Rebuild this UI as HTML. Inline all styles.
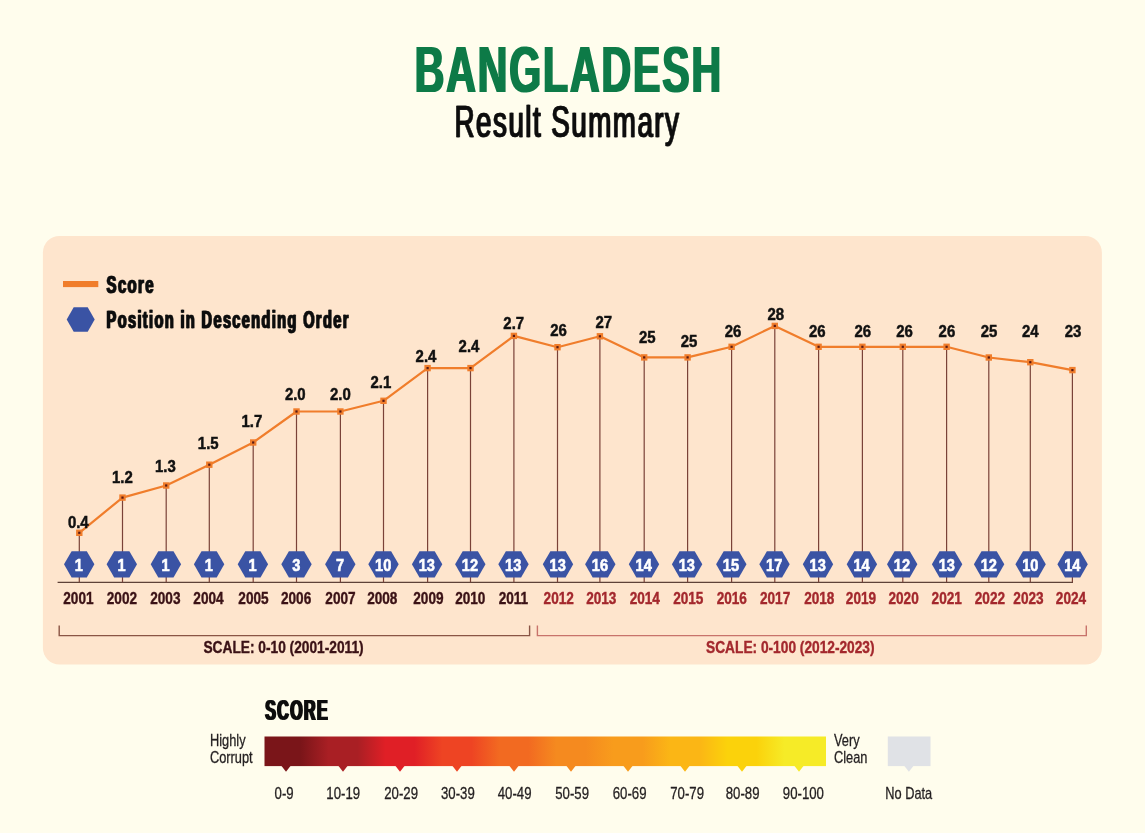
<!DOCTYPE html>
<html lang="en">
<head>
<meta charset="utf-8">
<title>Bangladesh Result Summary</title>
<style>
html,body{margin:0;padding:0;background:#FFFDED;}
body{width:1145px;height:833px;overflow:hidden;}
svg{display:block;font-family:'Liberation Sans', Arial, Helvetica, sans-serif;}
</style>
</head>
<body>
<svg width="1145" height="833" viewBox="0 0 1145 833">
<rect x="0" y="0" width="1145" height="833" fill="#FFFDED"/>
<rect x="42.9" y="236" width="1059" height="428.5" rx="16.5" ry="16.5" fill="#FEE5CD"/>
<rect x="63" y="281" width="35.3" height="6.1" fill="#F07D2B"/>
<polygon points="66.70,319.50 73.70,307.35 87.70,307.35 94.70,319.50 87.70,331.65 73.70,331.65" fill="#3A53A4"/>
<line x1="57.6" y1="582.3" x2="1073" y2="582.3" stroke="#5E4238" stroke-width="1.3"/>
<line x1="79.3" y1="532.8" x2="79.3" y2="582.3" stroke="#7A4238" stroke-width="1.2"/>
<line x1="122.5" y1="497.6" x2="122.5" y2="582.3" stroke="#7A4238" stroke-width="1.2"/>
<line x1="166.2" y1="485.5" x2="166.2" y2="582.3" stroke="#7A4238" stroke-width="1.2"/>
<line x1="209.3" y1="464.7" x2="209.3" y2="582.3" stroke="#7A4238" stroke-width="1.2"/>
<line x1="253.2" y1="442.5" x2="253.2" y2="582.3" stroke="#7A4238" stroke-width="1.2"/>
<line x1="296.5" y1="411.5" x2="296.5" y2="582.3" stroke="#7A4238" stroke-width="1.2"/>
<line x1="340.4" y1="411.5" x2="340.4" y2="582.3" stroke="#7A4238" stroke-width="1.2"/>
<line x1="383.5" y1="400.8" x2="383.5" y2="582.3" stroke="#7A4238" stroke-width="1.2"/>
<line x1="427.6" y1="368.1" x2="427.6" y2="582.3" stroke="#7A4238" stroke-width="1.2"/>
<line x1="470.5" y1="368.1" x2="470.5" y2="582.3" stroke="#7A4238" stroke-width="1.2"/>
<line x1="513.9" y1="335.9" x2="513.9" y2="582.3" stroke="#7A4238" stroke-width="1.2"/>
<line x1="557.5" y1="347.2" x2="557.5" y2="582.3" stroke="#7A4238" stroke-width="1.2"/>
<line x1="599.9" y1="336.3" x2="599.9" y2="582.3" stroke="#7A4238" stroke-width="1.2"/>
<line x1="644.2" y1="357.4" x2="644.2" y2="582.3" stroke="#7A4238" stroke-width="1.2"/>
<line x1="687.6" y1="357.4" x2="687.6" y2="582.3" stroke="#7A4238" stroke-width="1.2"/>
<line x1="731.6" y1="346.8" x2="731.6" y2="582.3" stroke="#7A4238" stroke-width="1.2"/>
<line x1="774.8" y1="325.9" x2="774.8" y2="582.3" stroke="#7A4238" stroke-width="1.2"/>
<line x1="818.6" y1="346.8" x2="818.6" y2="582.3" stroke="#7A4238" stroke-width="1.2"/>
<line x1="862.4" y1="346.8" x2="862.4" y2="582.3" stroke="#7A4238" stroke-width="1.2"/>
<line x1="902.8" y1="346.8" x2="902.8" y2="582.3" stroke="#7A4238" stroke-width="1.2"/>
<line x1="946.6" y1="346.8" x2="946.6" y2="582.3" stroke="#7A4238" stroke-width="1.2"/>
<line x1="988.8" y1="357.5" x2="988.8" y2="582.3" stroke="#7A4238" stroke-width="1.2"/>
<line x1="1030.3" y1="362.2" x2="1030.3" y2="582.3" stroke="#7A4238" stroke-width="1.2"/>
<line x1="1072.4" y1="370.1" x2="1072.4" y2="582.3" stroke="#7A4238" stroke-width="1.2"/>
<polyline points="79.3,532.8 122.5,497.6 166.2,485.5 209.3,464.7 253.2,442.5 296.5,411.5 340.4,411.5 383.5,400.8 427.6,368.1 470.5,368.1 513.9,335.9 557.5,347.2 599.9,336.3 644.2,357.4 687.6,357.4 731.6,346.8 774.8,325.9 818.6,346.8 862.4,346.8 902.8,346.8 946.6,346.8 988.8,357.5 1030.3,362.2 1072.4,370.1" fill="none" stroke="#F07D2B" stroke-width="2.2" stroke-linejoin="round"/>
<rect x="76.10" y="529.60" width="6.4" height="6.4" fill="#F07D2B"/>
<rect x="78.20" y="531.70" width="2.2" height="2.2" fill="#5A1A12"/>
<rect x="119.30" y="494.40" width="6.4" height="6.4" fill="#F07D2B"/>
<rect x="121.40" y="496.50" width="2.2" height="2.2" fill="#5A1A12"/>
<rect x="163.00" y="482.30" width="6.4" height="6.4" fill="#F07D2B"/>
<rect x="165.10" y="484.40" width="2.2" height="2.2" fill="#5A1A12"/>
<rect x="206.10" y="461.50" width="6.4" height="6.4" fill="#F07D2B"/>
<rect x="208.20" y="463.60" width="2.2" height="2.2" fill="#5A1A12"/>
<rect x="250.00" y="439.30" width="6.4" height="6.4" fill="#F07D2B"/>
<rect x="252.10" y="441.40" width="2.2" height="2.2" fill="#5A1A12"/>
<rect x="293.30" y="408.30" width="6.4" height="6.4" fill="#F07D2B"/>
<rect x="295.40" y="410.40" width="2.2" height="2.2" fill="#5A1A12"/>
<rect x="337.20" y="408.30" width="6.4" height="6.4" fill="#F07D2B"/>
<rect x="339.30" y="410.40" width="2.2" height="2.2" fill="#5A1A12"/>
<rect x="380.30" y="397.60" width="6.4" height="6.4" fill="#F07D2B"/>
<rect x="382.40" y="399.70" width="2.2" height="2.2" fill="#5A1A12"/>
<rect x="424.40" y="364.90" width="6.4" height="6.4" fill="#F07D2B"/>
<rect x="426.50" y="367.00" width="2.2" height="2.2" fill="#5A1A12"/>
<rect x="467.30" y="364.90" width="6.4" height="6.4" fill="#F07D2B"/>
<rect x="469.40" y="367.00" width="2.2" height="2.2" fill="#5A1A12"/>
<rect x="510.70" y="332.70" width="6.4" height="6.4" fill="#F07D2B"/>
<rect x="512.80" y="334.80" width="2.2" height="2.2" fill="#5A1A12"/>
<rect x="554.30" y="344.00" width="6.4" height="6.4" fill="#F07D2B"/>
<rect x="556.40" y="346.10" width="2.2" height="2.2" fill="#5A1A12"/>
<rect x="596.70" y="333.10" width="6.4" height="6.4" fill="#F07D2B"/>
<rect x="598.80" y="335.20" width="2.2" height="2.2" fill="#5A1A12"/>
<rect x="641.00" y="354.20" width="6.4" height="6.4" fill="#F07D2B"/>
<rect x="643.10" y="356.30" width="2.2" height="2.2" fill="#5A1A12"/>
<rect x="684.40" y="354.20" width="6.4" height="6.4" fill="#F07D2B"/>
<rect x="686.50" y="356.30" width="2.2" height="2.2" fill="#5A1A12"/>
<rect x="728.40" y="343.60" width="6.4" height="6.4" fill="#F07D2B"/>
<rect x="730.50" y="345.70" width="2.2" height="2.2" fill="#5A1A12"/>
<rect x="771.60" y="322.70" width="6.4" height="6.4" fill="#F07D2B"/>
<rect x="773.70" y="324.80" width="2.2" height="2.2" fill="#5A1A12"/>
<rect x="815.40" y="343.60" width="6.4" height="6.4" fill="#F07D2B"/>
<rect x="817.50" y="345.70" width="2.2" height="2.2" fill="#5A1A12"/>
<rect x="859.20" y="343.60" width="6.4" height="6.4" fill="#F07D2B"/>
<rect x="861.30" y="345.70" width="2.2" height="2.2" fill="#5A1A12"/>
<rect x="899.60" y="343.60" width="6.4" height="6.4" fill="#F07D2B"/>
<rect x="901.70" y="345.70" width="2.2" height="2.2" fill="#5A1A12"/>
<rect x="943.40" y="343.60" width="6.4" height="6.4" fill="#F07D2B"/>
<rect x="945.50" y="345.70" width="2.2" height="2.2" fill="#5A1A12"/>
<rect x="985.60" y="354.30" width="6.4" height="6.4" fill="#F07D2B"/>
<rect x="987.70" y="356.40" width="2.2" height="2.2" fill="#5A1A12"/>
<rect x="1027.10" y="359.00" width="6.4" height="6.4" fill="#F07D2B"/>
<rect x="1029.20" y="361.10" width="2.2" height="2.2" fill="#5A1A12"/>
<rect x="1069.20" y="366.90" width="6.4" height="6.4" fill="#F07D2B"/>
<rect x="1071.30" y="369.00" width="2.2" height="2.2" fill="#5A1A12"/>
<polygon points="64.00,564.30 71.60,551.20 86.80,551.20 94.40,564.30 86.80,577.40 71.60,577.40" fill="#3A53A4"/>
<polygon points="106.60,564.30 114.20,551.20 129.40,551.20 137.00,564.30 129.40,577.40 114.20,577.40" fill="#3A53A4"/>
<polygon points="150.70,564.30 158.30,551.20 173.50,551.20 181.10,564.30 173.50,577.40 158.30,577.40" fill="#3A53A4"/>
<polygon points="193.90,564.30 201.50,551.20 216.70,551.20 224.30,564.30 216.70,577.40 201.50,577.40" fill="#3A53A4"/>
<polygon points="237.70,564.30 245.30,551.20 260.50,551.20 268.10,564.30 260.50,577.40 245.30,577.40" fill="#3A53A4"/>
<polygon points="281.30,564.30 288.90,551.20 304.10,551.20 311.70,564.30 304.10,577.40 288.90,577.40" fill="#3A53A4"/>
<polygon points="325.10,564.30 332.70,551.20 347.90,551.20 355.50,564.30 347.90,577.40 332.70,577.40" fill="#3A53A4"/>
<polygon points="368.30,564.30 375.90,551.20 391.10,551.20 398.70,564.30 391.10,577.40 375.90,577.40" fill="#3A53A4"/>
<polygon points="411.90,564.30 419.50,551.20 434.70,551.20 442.30,564.30 434.70,577.40 419.50,577.40" fill="#3A53A4"/>
<polygon points="455.10,564.30 462.70,551.20 477.90,551.20 485.50,564.30 477.90,577.40 462.70,577.40" fill="#3A53A4"/>
<polygon points="498.30,564.30 505.90,551.20 521.10,551.20 528.70,564.30 521.10,577.40 505.90,577.40" fill="#3A53A4"/>
<polygon points="542.80,564.30 550.40,551.20 565.60,551.20 573.20,564.30 565.60,577.40 550.40,577.40" fill="#3A53A4"/>
<polygon points="585.10,564.30 592.70,551.20 607.90,551.20 615.50,564.30 607.90,577.40 592.70,577.40" fill="#3A53A4"/>
<polygon points="628.80,564.30 636.40,551.20 651.60,551.20 659.20,564.30 651.60,577.40 636.40,577.40" fill="#3A53A4"/>
<polygon points="671.90,564.30 679.50,551.20 694.70,551.20 702.30,564.30 694.70,577.40 679.50,577.40" fill="#3A53A4"/>
<polygon points="716.10,564.30 723.70,551.20 738.90,551.20 746.50,564.30 738.90,577.40 723.70,577.40" fill="#3A53A4"/>
<polygon points="759.30,564.30 766.90,551.20 782.10,551.20 789.70,564.30 782.10,577.40 766.90,577.40" fill="#3A53A4"/>
<polygon points="802.80,564.30 810.40,551.20 825.60,551.20 833.20,564.30 825.60,577.40 810.40,577.40" fill="#3A53A4"/>
<polygon points="846.70,564.30 854.30,551.20 869.50,551.20 877.10,564.30 869.50,577.40 854.30,577.40" fill="#3A53A4"/>
<polygon points="887.00,564.30 894.60,551.20 909.80,551.20 917.40,564.30 909.80,577.40 894.60,577.40" fill="#3A53A4"/>
<polygon points="931.90,564.30 939.50,551.20 954.70,551.20 962.30,564.30 954.70,577.40 939.50,577.40" fill="#3A53A4"/>
<polygon points="973.90,564.30 981.50,551.20 996.70,551.20 1004.30,564.30 996.70,577.40 981.50,577.40" fill="#3A53A4"/>
<polygon points="1015.40,564.30 1023.00,551.20 1038.20,551.20 1045.80,564.30 1038.20,577.40 1023.00,577.40" fill="#3A53A4"/>
<polygon points="1057.40,564.30 1065.00,551.20 1080.20,551.20 1087.80,564.30 1080.20,577.40 1065.00,577.40" fill="#3A53A4"/>
<polyline points="59.2,625.5 59.2,635.6 529.6,635.6 529.6,625.5" fill="none" stroke="#8A5545" stroke-width="1.4"/>
<polyline points="537.4,625.5 537.4,635.6 1086.3,635.6 1086.3,625.5" fill="none" stroke="#C8736B" stroke-width="1.4"/>
<defs>
<filter id="fat1" x="-5%" y="-10%" width="110%" height="120%"><feOffset dx="1" dy="0" result="a"/><feMerge><feMergeNode in="a"/><feMergeNode in="SourceGraphic"/></feMerge></filter>
<filter id="fat2" x="-5%" y="-10%" width="110%" height="120%"><feMorphology operator="dilate" radius="1 0"/></filter>
<filter id="fat3" x="-5%" y="-10%" width="110%" height="120%"><feMorphology operator="dilate" radius="1 0" result="d"/><feOffset dx="1" dy="0" result="a"/><feMerge><feMergeNode in="a"/><feMergeNode in="d"/></feMerge></filter>
<filter id="fat4" x="-5%" y="-10%" width="110%" height="120%"><feMorphology operator="dilate" radius="2 0"/></filter>
<filter id="gray" filterUnits="userSpaceOnUse" x="0" y="0" width="1145" height="833" color-interpolation-filters="sRGB"><feOffset dx="0" dy="0"/></filter>
<linearGradient id="g" x1="0" x2="1" y1="0" y2="0">
<stop offset="0.0125" stop-color="#7A1519"/>
<stop offset="0.0641" stop-color="#7A1519"/>
<stop offset="0.1140" stop-color="#A91F24"/>
<stop offset="0.1656" stop-color="#A91F24"/>
<stop offset="0.2155" stop-color="#E01F26"/>
<stop offset="0.2671" stop-color="#E01F26"/>
<stop offset="0.3170" stop-color="#EE4423"/>
<stop offset="0.3687" stop-color="#EE4423"/>
<stop offset="0.4185" stop-color="#F26A21"/>
<stop offset="0.4702" stop-color="#F26A21"/>
<stop offset="0.5200" stop-color="#F58A1F"/>
<stop offset="0.5717" stop-color="#F58A1F"/>
<stop offset="0.6215" stop-color="#F89C1C"/>
<stop offset="0.6732" stop-color="#F89C1C"/>
<stop offset="0.7231" stop-color="#FBB615"/>
<stop offset="0.7747" stop-color="#FBB615"/>
<stop offset="0.8246" stop-color="#FBD20B"/>
<stop offset="0.8762" stop-color="#FBD20B"/>
<stop offset="0.9261" stop-color="#F6EB27"/>
<stop offset="0.9777" stop-color="#F6EB27"/>
</linearGradient></defs>
<rect x="264.5" y="736.5" width="561.5" height="29.6" fill="url(#g)"/>
<polygon points="281.5,766 290.5,766 286.0,771.8" fill="#7A1519"/>
<polygon points="338.5,766 347.5,766 343.0,771.8" fill="#A91F24"/>
<polygon points="395.5,766 404.5,766 400.0,771.8" fill="#E01F26"/>
<polygon points="452.5,766 461.5,766 457.0,771.8" fill="#EE4423"/>
<polygon points="509.5,766 518.5,766 514.0,771.8" fill="#F26A21"/>
<polygon points="566.5,766 575.5,766 571.0,771.8" fill="#F58A1F"/>
<polygon points="623.5,766 632.5,766 628.0,771.8" fill="#F89C1C"/>
<polygon points="680.5,766 689.5,766 685.0,771.8" fill="#FBB615"/>
<polygon points="737.5,766 746.5,766 742.0,771.8" fill="#FBD20B"/>
<polygon points="794.5,766 803.5,766 799.0,771.8" fill="#F6EB27"/>
<rect x="887.8" y="736.5" width="42.7" height="29.6" fill="#E0E2E6"/>
<polygon points="904.4,766 913.4,766 908.9,771.8" fill="#E0E2E6"/>
<g filter="url(#gray)">
<g filter="url(#fat2)">
<text transform="translate(568.90,91.70) scale(0.632,1)" font-size="64.8" font-weight="bold" fill="#0C7A47" text-anchor="middle" letter-spacing="3.1">BANGLADESH</text>
</g>
<g filter="url(#fat1)">
<text transform="translate(567.00,136.50) scale(0.622,1)" font-size="44.6" font-weight="normal" fill="#111111" text-anchor="middle" letter-spacing="2.4" stroke="#111111" stroke-width="0.7">Result Summary</text>
</g>
<g filter="url(#fat1)">
<text transform="translate(106.10,293.00) scale(0.640,1)" font-size="23.2" font-weight="bold" fill="#111111" text-anchor="start" letter-spacing="2.2" stroke="#111111" stroke-width="0.6">Score</text>
</g>
<g filter="url(#fat1)">
<text transform="translate(106.10,328.00) scale(0.627,1)" font-size="23.2" font-weight="bold" fill="#111111" text-anchor="start" letter-spacing="2.2" stroke="#111111" stroke-width="0.6">Position in Descending Order</text>
</g>
<text transform="translate(78.30,527.80) scale(0.880,1)" font-size="17" font-weight="bold" fill="#111111" text-anchor="middle" stroke="#111111" stroke-width="0.5">0.4</text>
<text transform="translate(122.40,482.90) scale(0.880,1)" font-size="17" font-weight="bold" fill="#111111" text-anchor="middle" stroke="#111111" stroke-width="0.5">1.2</text>
<text transform="translate(165.35,471.60) scale(0.880,1)" font-size="17" font-weight="bold" fill="#111111" text-anchor="middle" stroke="#111111" stroke-width="0.5">1.3</text>
<text transform="translate(208.25,449.40) scale(0.880,1)" font-size="17" font-weight="bold" fill="#111111" text-anchor="middle" stroke="#111111" stroke-width="0.5">1.5</text>
<text transform="translate(251.90,426.50) scale(0.880,1)" font-size="17" font-weight="bold" fill="#111111" text-anchor="middle" stroke="#111111" stroke-width="0.5">1.7</text>
<text transform="translate(295.30,400.30) scale(0.880,1)" font-size="17" font-weight="bold" fill="#111111" text-anchor="middle" stroke="#111111" stroke-width="0.5">2.0</text>
<text transform="translate(340.40,400.30) scale(0.880,1)" font-size="17" font-weight="bold" fill="#111111" text-anchor="middle" stroke="#111111" stroke-width="0.5">2.0</text>
<text transform="translate(380.90,387.80) scale(0.880,1)" font-size="17" font-weight="bold" fill="#111111" text-anchor="middle" stroke="#111111" stroke-width="0.5">2.1</text>
<text transform="translate(426.00,362.00) scale(0.880,1)" font-size="17" font-weight="bold" fill="#111111" text-anchor="middle" stroke="#111111" stroke-width="0.5">2.4</text>
<text transform="translate(469.00,351.50) scale(0.880,1)" font-size="17" font-weight="bold" fill="#111111" text-anchor="middle" stroke="#111111" stroke-width="0.5">2.4</text>
<text transform="translate(513.75,329.30) scale(0.880,1)" font-size="17" font-weight="bold" fill="#111111" text-anchor="middle" stroke="#111111" stroke-width="0.5">2.7</text>
<text transform="translate(558.50,335.80) scale(0.880,1)" font-size="17" font-weight="bold" fill="#111111" text-anchor="middle" stroke="#111111" stroke-width="0.5">26</text>
<text transform="translate(603.80,328.10) scale(0.880,1)" font-size="17" font-weight="bold" fill="#111111" text-anchor="middle" stroke="#111111" stroke-width="0.5">27</text>
<text transform="translate(647.20,342.90) scale(0.880,1)" font-size="17" font-weight="bold" fill="#111111" text-anchor="middle" stroke="#111111" stroke-width="0.5">25</text>
<text transform="translate(688.95,347.00) scale(0.880,1)" font-size="17" font-weight="bold" fill="#111111" text-anchor="middle" stroke="#111111" stroke-width="0.5">25</text>
<text transform="translate(733.10,337.20) scale(0.880,1)" font-size="17" font-weight="bold" fill="#111111" text-anchor="middle" stroke="#111111" stroke-width="0.5">26</text>
<text transform="translate(775.80,319.90) scale(0.880,1)" font-size="17" font-weight="bold" fill="#111111" text-anchor="middle" stroke="#111111" stroke-width="0.5">28</text>
<text transform="translate(817.30,336.70) scale(0.880,1)" font-size="17" font-weight="bold" fill="#111111" text-anchor="middle" stroke="#111111" stroke-width="0.5">26</text>
<text transform="translate(862.75,336.70) scale(0.880,1)" font-size="17" font-weight="bold" fill="#111111" text-anchor="middle" stroke="#111111" stroke-width="0.5">26</text>
<text transform="translate(904.60,336.70) scale(0.880,1)" font-size="17" font-weight="bold" fill="#111111" text-anchor="middle" stroke="#111111" stroke-width="0.5">26</text>
<text transform="translate(946.90,336.70) scale(0.880,1)" font-size="17" font-weight="bold" fill="#111111" text-anchor="middle" stroke="#111111" stroke-width="0.5">26</text>
<text transform="translate(989.05,336.60) scale(0.880,1)" font-size="17" font-weight="bold" fill="#111111" text-anchor="middle" stroke="#111111" stroke-width="0.5">25</text>
<text transform="translate(1030.30,336.60) scale(0.880,1)" font-size="17" font-weight="bold" fill="#111111" text-anchor="middle" stroke="#111111" stroke-width="0.5">24</text>
<text transform="translate(1073.05,336.60) scale(0.880,1)" font-size="17" font-weight="bold" fill="#111111" text-anchor="middle" stroke="#111111" stroke-width="0.5">23</text>
<text transform="translate(78.90,570.50) scale(0.860,1)" font-size="17" font-weight="bold" fill="#FFFFFF" text-anchor="middle" stroke="#FFFFFF" stroke-width="0.6">1</text>
<text transform="translate(121.50,570.50) scale(0.860,1)" font-size="17" font-weight="bold" fill="#FFFFFF" text-anchor="middle" stroke="#FFFFFF" stroke-width="0.6">1</text>
<text transform="translate(165.60,570.50) scale(0.860,1)" font-size="17" font-weight="bold" fill="#FFFFFF" text-anchor="middle" stroke="#FFFFFF" stroke-width="0.6">1</text>
<text transform="translate(208.80,570.50) scale(0.860,1)" font-size="17" font-weight="bold" fill="#FFFFFF" text-anchor="middle" stroke="#FFFFFF" stroke-width="0.6">1</text>
<text transform="translate(252.60,570.50) scale(0.860,1)" font-size="17" font-weight="bold" fill="#FFFFFF" text-anchor="middle" stroke="#FFFFFF" stroke-width="0.6">1</text>
<text transform="translate(296.20,570.50) scale(0.860,1)" font-size="17" font-weight="bold" fill="#FFFFFF" text-anchor="middle" stroke="#FFFFFF" stroke-width="0.6">3</text>
<text transform="translate(340.00,570.50) scale(0.860,1)" font-size="17" font-weight="bold" fill="#FFFFFF" text-anchor="middle" stroke="#FFFFFF" stroke-width="0.6">7</text>
<text transform="translate(383.20,570.50) scale(0.860,1)" font-size="17" font-weight="bold" fill="#FFFFFF" text-anchor="middle" stroke="#FFFFFF" stroke-width="0.6">10</text>
<text transform="translate(426.80,570.50) scale(0.860,1)" font-size="17" font-weight="bold" fill="#FFFFFF" text-anchor="middle" stroke="#FFFFFF" stroke-width="0.6">13</text>
<text transform="translate(470.00,570.50) scale(0.860,1)" font-size="17" font-weight="bold" fill="#FFFFFF" text-anchor="middle" stroke="#FFFFFF" stroke-width="0.6">12</text>
<text transform="translate(513.20,570.50) scale(0.860,1)" font-size="17" font-weight="bold" fill="#FFFFFF" text-anchor="middle" stroke="#FFFFFF" stroke-width="0.6">13</text>
<text transform="translate(557.70,570.50) scale(0.860,1)" font-size="17" font-weight="bold" fill="#FFFFFF" text-anchor="middle" stroke="#FFFFFF" stroke-width="0.6">13</text>
<text transform="translate(600.00,570.50) scale(0.860,1)" font-size="17" font-weight="bold" fill="#FFFFFF" text-anchor="middle" stroke="#FFFFFF" stroke-width="0.6">16</text>
<text transform="translate(643.70,570.50) scale(0.860,1)" font-size="17" font-weight="bold" fill="#FFFFFF" text-anchor="middle" stroke="#FFFFFF" stroke-width="0.6">14</text>
<text transform="translate(686.80,570.50) scale(0.860,1)" font-size="17" font-weight="bold" fill="#FFFFFF" text-anchor="middle" stroke="#FFFFFF" stroke-width="0.6">13</text>
<text transform="translate(731.00,570.50) scale(0.860,1)" font-size="17" font-weight="bold" fill="#FFFFFF" text-anchor="middle" stroke="#FFFFFF" stroke-width="0.6">15</text>
<text transform="translate(774.20,570.50) scale(0.860,1)" font-size="17" font-weight="bold" fill="#FFFFFF" text-anchor="middle" stroke="#FFFFFF" stroke-width="0.6">17</text>
<text transform="translate(817.70,570.50) scale(0.860,1)" font-size="17" font-weight="bold" fill="#FFFFFF" text-anchor="middle" stroke="#FFFFFF" stroke-width="0.6">13</text>
<text transform="translate(861.60,570.50) scale(0.860,1)" font-size="17" font-weight="bold" fill="#FFFFFF" text-anchor="middle" stroke="#FFFFFF" stroke-width="0.6">14</text>
<text transform="translate(901.90,570.50) scale(0.860,1)" font-size="17" font-weight="bold" fill="#FFFFFF" text-anchor="middle" stroke="#FFFFFF" stroke-width="0.6">12</text>
<text transform="translate(946.80,570.50) scale(0.860,1)" font-size="17" font-weight="bold" fill="#FFFFFF" text-anchor="middle" stroke="#FFFFFF" stroke-width="0.6">13</text>
<text transform="translate(988.80,570.50) scale(0.860,1)" font-size="17" font-weight="bold" fill="#FFFFFF" text-anchor="middle" stroke="#FFFFFF" stroke-width="0.6">12</text>
<text transform="translate(1030.30,570.50) scale(0.860,1)" font-size="17" font-weight="bold" fill="#FFFFFF" text-anchor="middle" stroke="#FFFFFF" stroke-width="0.6">10</text>
<text transform="translate(1072.30,570.50) scale(0.860,1)" font-size="17" font-weight="bold" fill="#FFFFFF" text-anchor="middle" stroke="#FFFFFF" stroke-width="0.6">14</text>
<text transform="translate(78.40,603.50) scale(0.825,1)" font-size="16.5" font-weight="bold" fill="#3B1216" text-anchor="middle" stroke="#3B1216" stroke-width="0.4">2001</text>
<text transform="translate(121.90,603.50) scale(0.825,1)" font-size="16.5" font-weight="bold" fill="#3B1216" text-anchor="middle" stroke="#3B1216" stroke-width="0.4">2002</text>
<text transform="translate(165.35,603.50) scale(0.825,1)" font-size="16.5" font-weight="bold" fill="#3B1216" text-anchor="middle" stroke="#3B1216" stroke-width="0.4">2003</text>
<text transform="translate(208.50,603.50) scale(0.825,1)" font-size="16.5" font-weight="bold" fill="#3B1216" text-anchor="middle" stroke="#3B1216" stroke-width="0.4">2004</text>
<text transform="translate(253.50,603.50) scale(0.825,1)" font-size="16.5" font-weight="bold" fill="#3B1216" text-anchor="middle" stroke="#3B1216" stroke-width="0.4">2005</text>
<text transform="translate(296.10,603.50) scale(0.825,1)" font-size="16.5" font-weight="bold" fill="#3B1216" text-anchor="middle" stroke="#3B1216" stroke-width="0.4">2006</text>
<text transform="translate(340.50,603.50) scale(0.825,1)" font-size="16.5" font-weight="bold" fill="#3B1216" text-anchor="middle" stroke="#3B1216" stroke-width="0.4">2007</text>
<text transform="translate(382.30,603.50) scale(0.825,1)" font-size="16.5" font-weight="bold" fill="#3B1216" text-anchor="middle" stroke="#3B1216" stroke-width="0.4">2008</text>
<text transform="translate(428.40,603.50) scale(0.825,1)" font-size="16.5" font-weight="bold" fill="#3B1216" text-anchor="middle" stroke="#3B1216" stroke-width="0.4">2009</text>
<text transform="translate(470.30,603.50) scale(0.825,1)" font-size="16.5" font-weight="bold" fill="#3B1216" text-anchor="middle" stroke="#3B1216" stroke-width="0.4">2010</text>
<text transform="translate(513.40,603.50) scale(0.825,1)" font-size="16.5" font-weight="bold" fill="#3B1216" text-anchor="middle" stroke="#3B1216" stroke-width="0.4">2011</text>
<text transform="translate(558.70,603.50) scale(0.825,1)" font-size="16.5" font-weight="bold" fill="#A3282D" text-anchor="middle" stroke="#A3282D" stroke-width="0.4">2012</text>
<text transform="translate(601.30,603.50) scale(0.825,1)" font-size="16.5" font-weight="bold" fill="#A3282D" text-anchor="middle" stroke="#A3282D" stroke-width="0.4">2013</text>
<text transform="translate(644.80,603.50) scale(0.825,1)" font-size="16.5" font-weight="bold" fill="#A3282D" text-anchor="middle" stroke="#A3282D" stroke-width="0.4">2014</text>
<text transform="translate(688.30,603.50) scale(0.825,1)" font-size="16.5" font-weight="bold" fill="#A3282D" text-anchor="middle" stroke="#A3282D" stroke-width="0.4">2015</text>
<text transform="translate(731.80,603.50) scale(0.825,1)" font-size="16.5" font-weight="bold" fill="#A3282D" text-anchor="middle" stroke="#A3282D" stroke-width="0.4">2016</text>
<text transform="translate(775.10,603.50) scale(0.825,1)" font-size="16.5" font-weight="bold" fill="#A3282D" text-anchor="middle" stroke="#A3282D" stroke-width="0.4">2017</text>
<text transform="translate(819.30,603.50) scale(0.825,1)" font-size="16.5" font-weight="bold" fill="#A3282D" text-anchor="middle" stroke="#A3282D" stroke-width="0.4">2018</text>
<text transform="translate(861.00,603.50) scale(0.825,1)" font-size="16.5" font-weight="bold" fill="#A3282D" text-anchor="middle" stroke="#A3282D" stroke-width="0.4">2019</text>
<text transform="translate(903.60,603.50) scale(0.825,1)" font-size="16.5" font-weight="bold" fill="#A3282D" text-anchor="middle" stroke="#A3282D" stroke-width="0.4">2020</text>
<text transform="translate(946.70,603.50) scale(0.825,1)" font-size="16.5" font-weight="bold" fill="#A3282D" text-anchor="middle" stroke="#A3282D" stroke-width="0.4">2021</text>
<text transform="translate(989.90,603.50) scale(0.825,1)" font-size="16.5" font-weight="bold" fill="#A3282D" text-anchor="middle" stroke="#A3282D" stroke-width="0.4">2022</text>
<text transform="translate(1028.50,603.50) scale(0.825,1)" font-size="16.5" font-weight="bold" fill="#A3282D" text-anchor="middle" stroke="#A3282D" stroke-width="0.4">2023</text>
<text transform="translate(1071.00,603.50) scale(0.825,1)" font-size="16.5" font-weight="bold" fill="#A3282D" text-anchor="middle" stroke="#A3282D" stroke-width="0.4">2024</text>
<text transform="translate(283.50,652.90) scale(0.808,1)" font-size="17" font-weight="bold" fill="#3B1216" text-anchor="middle" stroke="#3B1216" stroke-width="0.4">SCALE: 0-10 (2001-2011)</text>
<text transform="translate(790.30,652.90) scale(0.808,1)" font-size="17" font-weight="bold" fill="#A3282D" text-anchor="middle" stroke="#A3282D" stroke-width="0.4">SCALE: 0-100 (2012-2023)</text>
<g filter="url(#fat2)">
<text transform="translate(265.20,719.60) scale(0.548,1)" font-size="29" font-weight="bold" fill="#111111" text-anchor="start" letter-spacing="2.7">SCORE</text>
</g>
<text transform="translate(284.10,798.50) scale(0.825,1)" font-size="16" font-weight="normal" fill="#231F20" text-anchor="middle" stroke="#231F20" stroke-width="0.3">0-9</text>
<text transform="translate(343.20,798.50) scale(0.825,1)" font-size="16" font-weight="normal" fill="#231F20" text-anchor="middle" stroke="#231F20" stroke-width="0.3">10-19</text>
<text transform="translate(401.10,798.50) scale(0.825,1)" font-size="16" font-weight="normal" fill="#231F20" text-anchor="middle" stroke="#231F20" stroke-width="0.3">20-29</text>
<text transform="translate(457.90,798.50) scale(0.825,1)" font-size="16" font-weight="normal" fill="#231F20" text-anchor="middle" stroke="#231F20" stroke-width="0.3">30-39</text>
<text transform="translate(514.60,798.50) scale(0.825,1)" font-size="16" font-weight="normal" fill="#231F20" text-anchor="middle" stroke="#231F20" stroke-width="0.3">40-49</text>
<text transform="translate(572.10,798.50) scale(0.825,1)" font-size="16" font-weight="normal" fill="#231F20" text-anchor="middle" stroke="#231F20" stroke-width="0.3">50-59</text>
<text transform="translate(629.60,798.50) scale(0.825,1)" font-size="16" font-weight="normal" fill="#231F20" text-anchor="middle" stroke="#231F20" stroke-width="0.3">60-69</text>
<text transform="translate(687.10,798.50) scale(0.825,1)" font-size="16" font-weight="normal" fill="#231F20" text-anchor="middle" stroke="#231F20" stroke-width="0.3">70-79</text>
<text transform="translate(742.60,798.50) scale(0.825,1)" font-size="16" font-weight="normal" fill="#231F20" text-anchor="middle" stroke="#231F20" stroke-width="0.3">80-89</text>
<text transform="translate(803.40,798.50) scale(0.825,1)" font-size="16" font-weight="normal" fill="#231F20" text-anchor="middle" stroke="#231F20" stroke-width="0.3">90-100</text>
<text transform="translate(210.00,745.60) scale(0.800,1)" font-size="16" font-weight="normal" fill="#231F20" text-anchor="start" stroke="#231F20" stroke-width="0.3">Highly</text>
<text transform="translate(210.00,763.10) scale(0.800,1)" font-size="16" font-weight="normal" fill="#231F20" text-anchor="start" stroke="#231F20" stroke-width="0.3">Corrupt</text>
<text transform="translate(834.00,745.60) scale(0.800,1)" font-size="16" font-weight="normal" fill="#231F20" text-anchor="start" stroke="#231F20" stroke-width="0.3">Very</text>
<text transform="translate(834.00,763.10) scale(0.800,1)" font-size="16" font-weight="normal" fill="#231F20" text-anchor="start" stroke="#231F20" stroke-width="0.3">Clean</text>
<text transform="translate(908.70,798.50) scale(0.800,1)" font-size="16" font-weight="normal" fill="#231F20" text-anchor="middle" stroke="#231F20" stroke-width="0.3">No Data</text>
</g>
</svg>
</body>
</html>
